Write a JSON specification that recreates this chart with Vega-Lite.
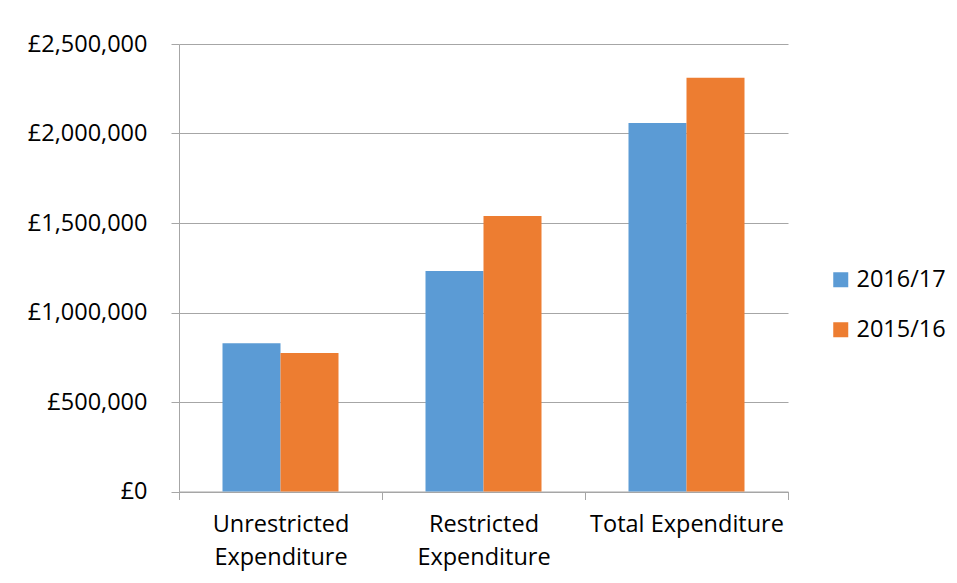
{
  "$schema": "https://vega.github.io/schema/vega-lite/v6.json",
  "autosize": {"type": "none"},
  "padding": {"left": 179, "top": 44, "right": 169, "bottom": 91.5},
  "width": 609,
  "height": 447.5,
  "background": "white",
  "config": {
    "font": "Open Sans",
    "view": {"stroke": null},
    "axis": {"labelFont": "Open Sans", "labelColor": "#000000", "domainColor": "#A6A6A6", "tickColor": "#A6A6A6", "gridColor": "#A6A6A6", "domainWidth": 1, "tickWidth": 1, "gridWidth": 1}
  },
  "data": {
    "values": [
      {"category": "Unrestricted|Expenditure", "year": "2016/17", "amount": 828000},
      {"category": "Unrestricted|Expenditure", "year": "2015/16", "amount": 774000},
      {"category": "Restricted|Expenditure", "year": "2016/17", "amount": 1232000},
      {"category": "Restricted|Expenditure", "year": "2015/16", "amount": 1539000},
      {"category": "Total Expenditure", "year": "2016/17", "amount": 2059000},
      {"category": "Total Expenditure", "year": "2015/16", "amount": 2312000}
    ]
  },
  "mark": {"type": "bar"},
  "encoding": {
    "x": {
      "field": "category",
      "type": "nominal",
      "sort": null,
      "scale": {"paddingInner": 0, "paddingOuter": 0},
      "axis": {
        "title": null,
        "labelAngle": 0,
        "labelFontSize": 23.5,
        "labelLineHeight": 33,
        "labelPadding": 13,
        "labelBaseline": "top",
        "labelLimit": 400,
        "labelExpr": "datum.value ? split(datum.value, '|') : ''",
        "tickBand": "extent",
        "tickSize": 8,
        "grid": false
      }
    },
    "xOffset": {
      "field": "year",
      "type": "nominal",
      "sort": ["2016/17", "2015/16"],
      "scale": {"paddingInner": 0, "paddingOuter": 0.75}
    },
    "y": {
      "field": "amount",
      "type": "quantitative",
      "scale": {"domain": [0, 2500000], "nice": false},
      "axis": {
        "title": null,
        "values": [0, 500000, 1000000, 1500000, 2000000, 2500000],
        "labelExpr": "'£' + format(datum.value, ',')",
        "labelFontSize": 23.5,
        "tickSize": 8,
        "labelPadding": 24,
        "grid": true
      }
    },
    "color": {
      "field": "year",
      "type": "nominal",
      "sort": ["2016/17", "2015/16"],
      "scale": {"domain": ["2016/17", "2015/16"], "range": ["#5B9BD5", "#ED7D31"]},
      "legend": {
        "title": null,
        "orient": "none",
        "legendX": 650,
        "legendY": 224,
        "padding": 0,
        "symbolType": "square",
        "symbolSize": 225,
        "symbolStrokeWidth": 0,
        "labelFont": "Open Sans",
        "labelFontSize": 23.5,
        "labelColor": "#000000",
        "labelOffset": 4,
        "rowPadding": 25
      }
    }
  }
}
